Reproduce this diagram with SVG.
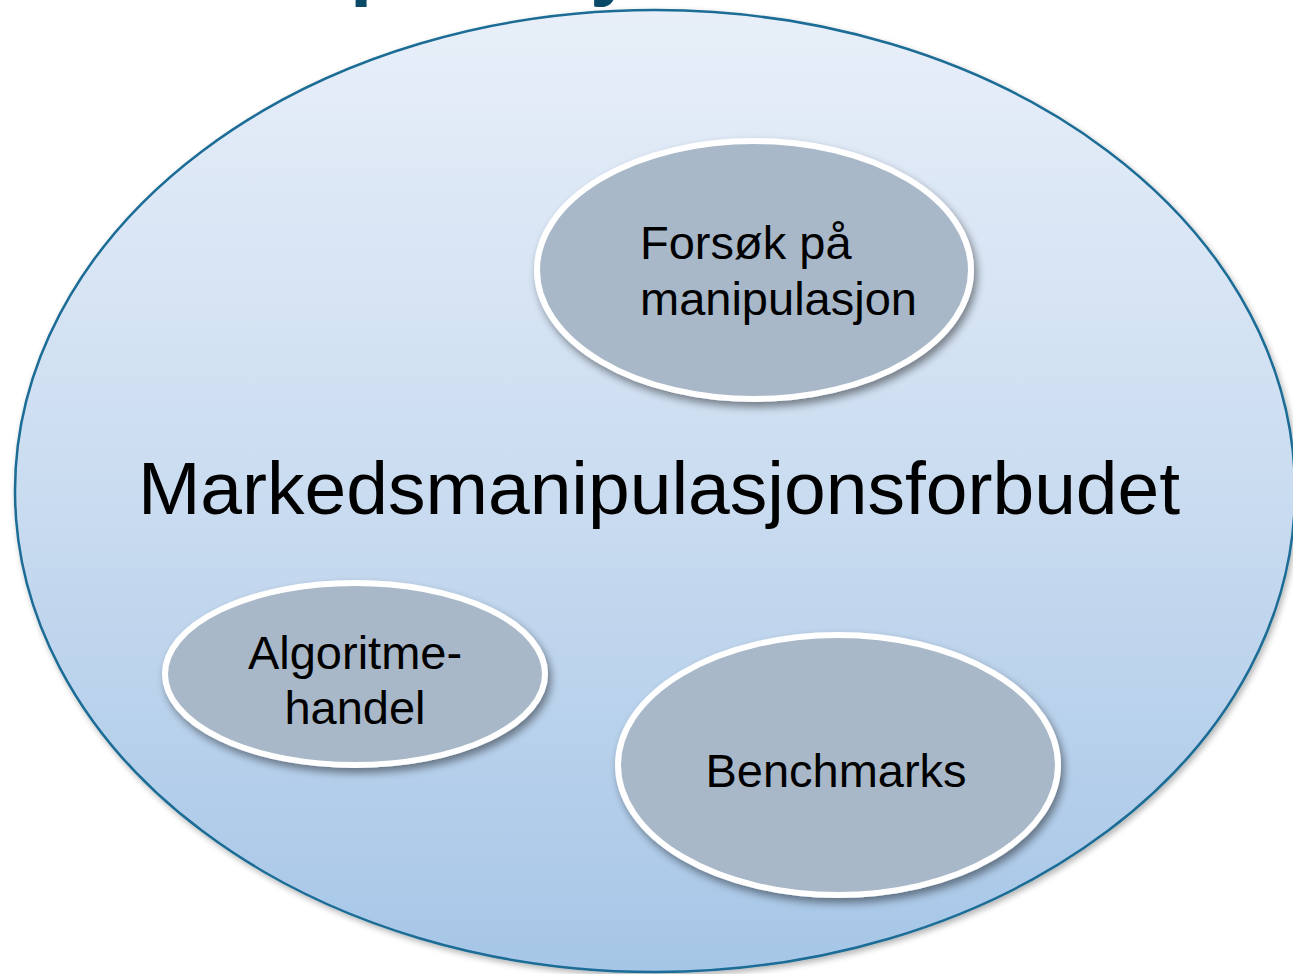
<svg xmlns="http://www.w3.org/2000/svg" width="1293" height="974" viewBox="0 0 1293 974">
  <defs>
    <linearGradient id="outerFill" x1="0" y1="0" x2="0" y2="1">
      <stop offset="0" stop-color="#E8EFF9"/>
      <stop offset="0.5" stop-color="#CADCF0"/>
      <stop offset="1" stop-color="#A6C6E7"/>
    </linearGradient>
    <filter id="softShadow" x="-10%" y="-10%" width="125%" height="125%">
      <feGaussianBlur in="SourceAlpha" stdDeviation="4"/>
      <feOffset dx="3" dy="5" result="b"/>
      <feComponentTransfer><feFuncA type="linear" slope="0.45"/></feComponentTransfer>
      <feMerge><feMergeNode/><feMergeNode in="SourceGraphic"/></feMerge>
    </filter>
    <filter id="outerShadow" x="-5%" y="-5%" width="110%" height="110%">
      <feGaussianBlur in="SourceAlpha" stdDeviation="3"/>
      <feOffset dx="2" dy="3" result="b"/>
      <feComponentTransfer><feFuncA type="linear" slope="0.3"/></feComponentTransfer>
      <feMerge><feMergeNode/><feMergeNode in="SourceGraphic"/></feMerge>
    </filter>
  </defs>
  <style>
    .title { font-family: "Liberation Sans", Arial, sans-serif; font-weight: bold; font-size: 80px; fill: #0B4A66; }
    .inner { fill: #A8B8C8; stroke: #FFFFFF; stroke-width: 6; filter: url(#softShadow); }
    .label { font-family: "Liberation Sans", Arial, sans-serif; font-size: 47px; fill: #000000; }
    .big { font-family: "Liberation Sans", Arial, sans-serif; font-size: 75px; fill: #000000; }
  </style>

  <rect width="1293" height="974" fill="#FFFFFF"/>

  <!-- heading glyphs above the frame, only their descenders fall inside -->
  <text class="title" x="350" y="-10">p</text>
  <text class="title" x="590" y="-10">y</text>

  <g id="outer">
    <ellipse cx="655" cy="491" rx="640" ry="481" fill="url(#outerFill)" stroke="#1A6C96" stroke-width="2.5" filter="url(#outerShadow)"/>
    <text class="big" x="659" y="514" text-anchor="middle">Markedsmanipulasjonsforbudet</text>
  </g>

  <g id="forsok">
    <ellipse class="inner" cx="754" cy="270" rx="217" ry="129"/>
    <text class="label" x="640" y="259">Forsøk på</text>
    <text class="label" x="640" y="315">manipulasjon</text>
  </g>

  <g id="algoritme">
    <ellipse class="inner" cx="355" cy="674" rx="190" ry="91"/>
    <text class="label" x="355" y="669" text-anchor="middle">Algoritme-</text>
    <text class="label" x="355" y="724" text-anchor="middle">handel</text>
  </g>

  <g id="benchmarks">
    <ellipse class="inner" cx="838" cy="765" rx="220" ry="130"/>
    <text class="label" x="836" y="787" text-anchor="middle">Benchmarks</text>
  </g>

  <g id="connectors"></g>
</svg>
